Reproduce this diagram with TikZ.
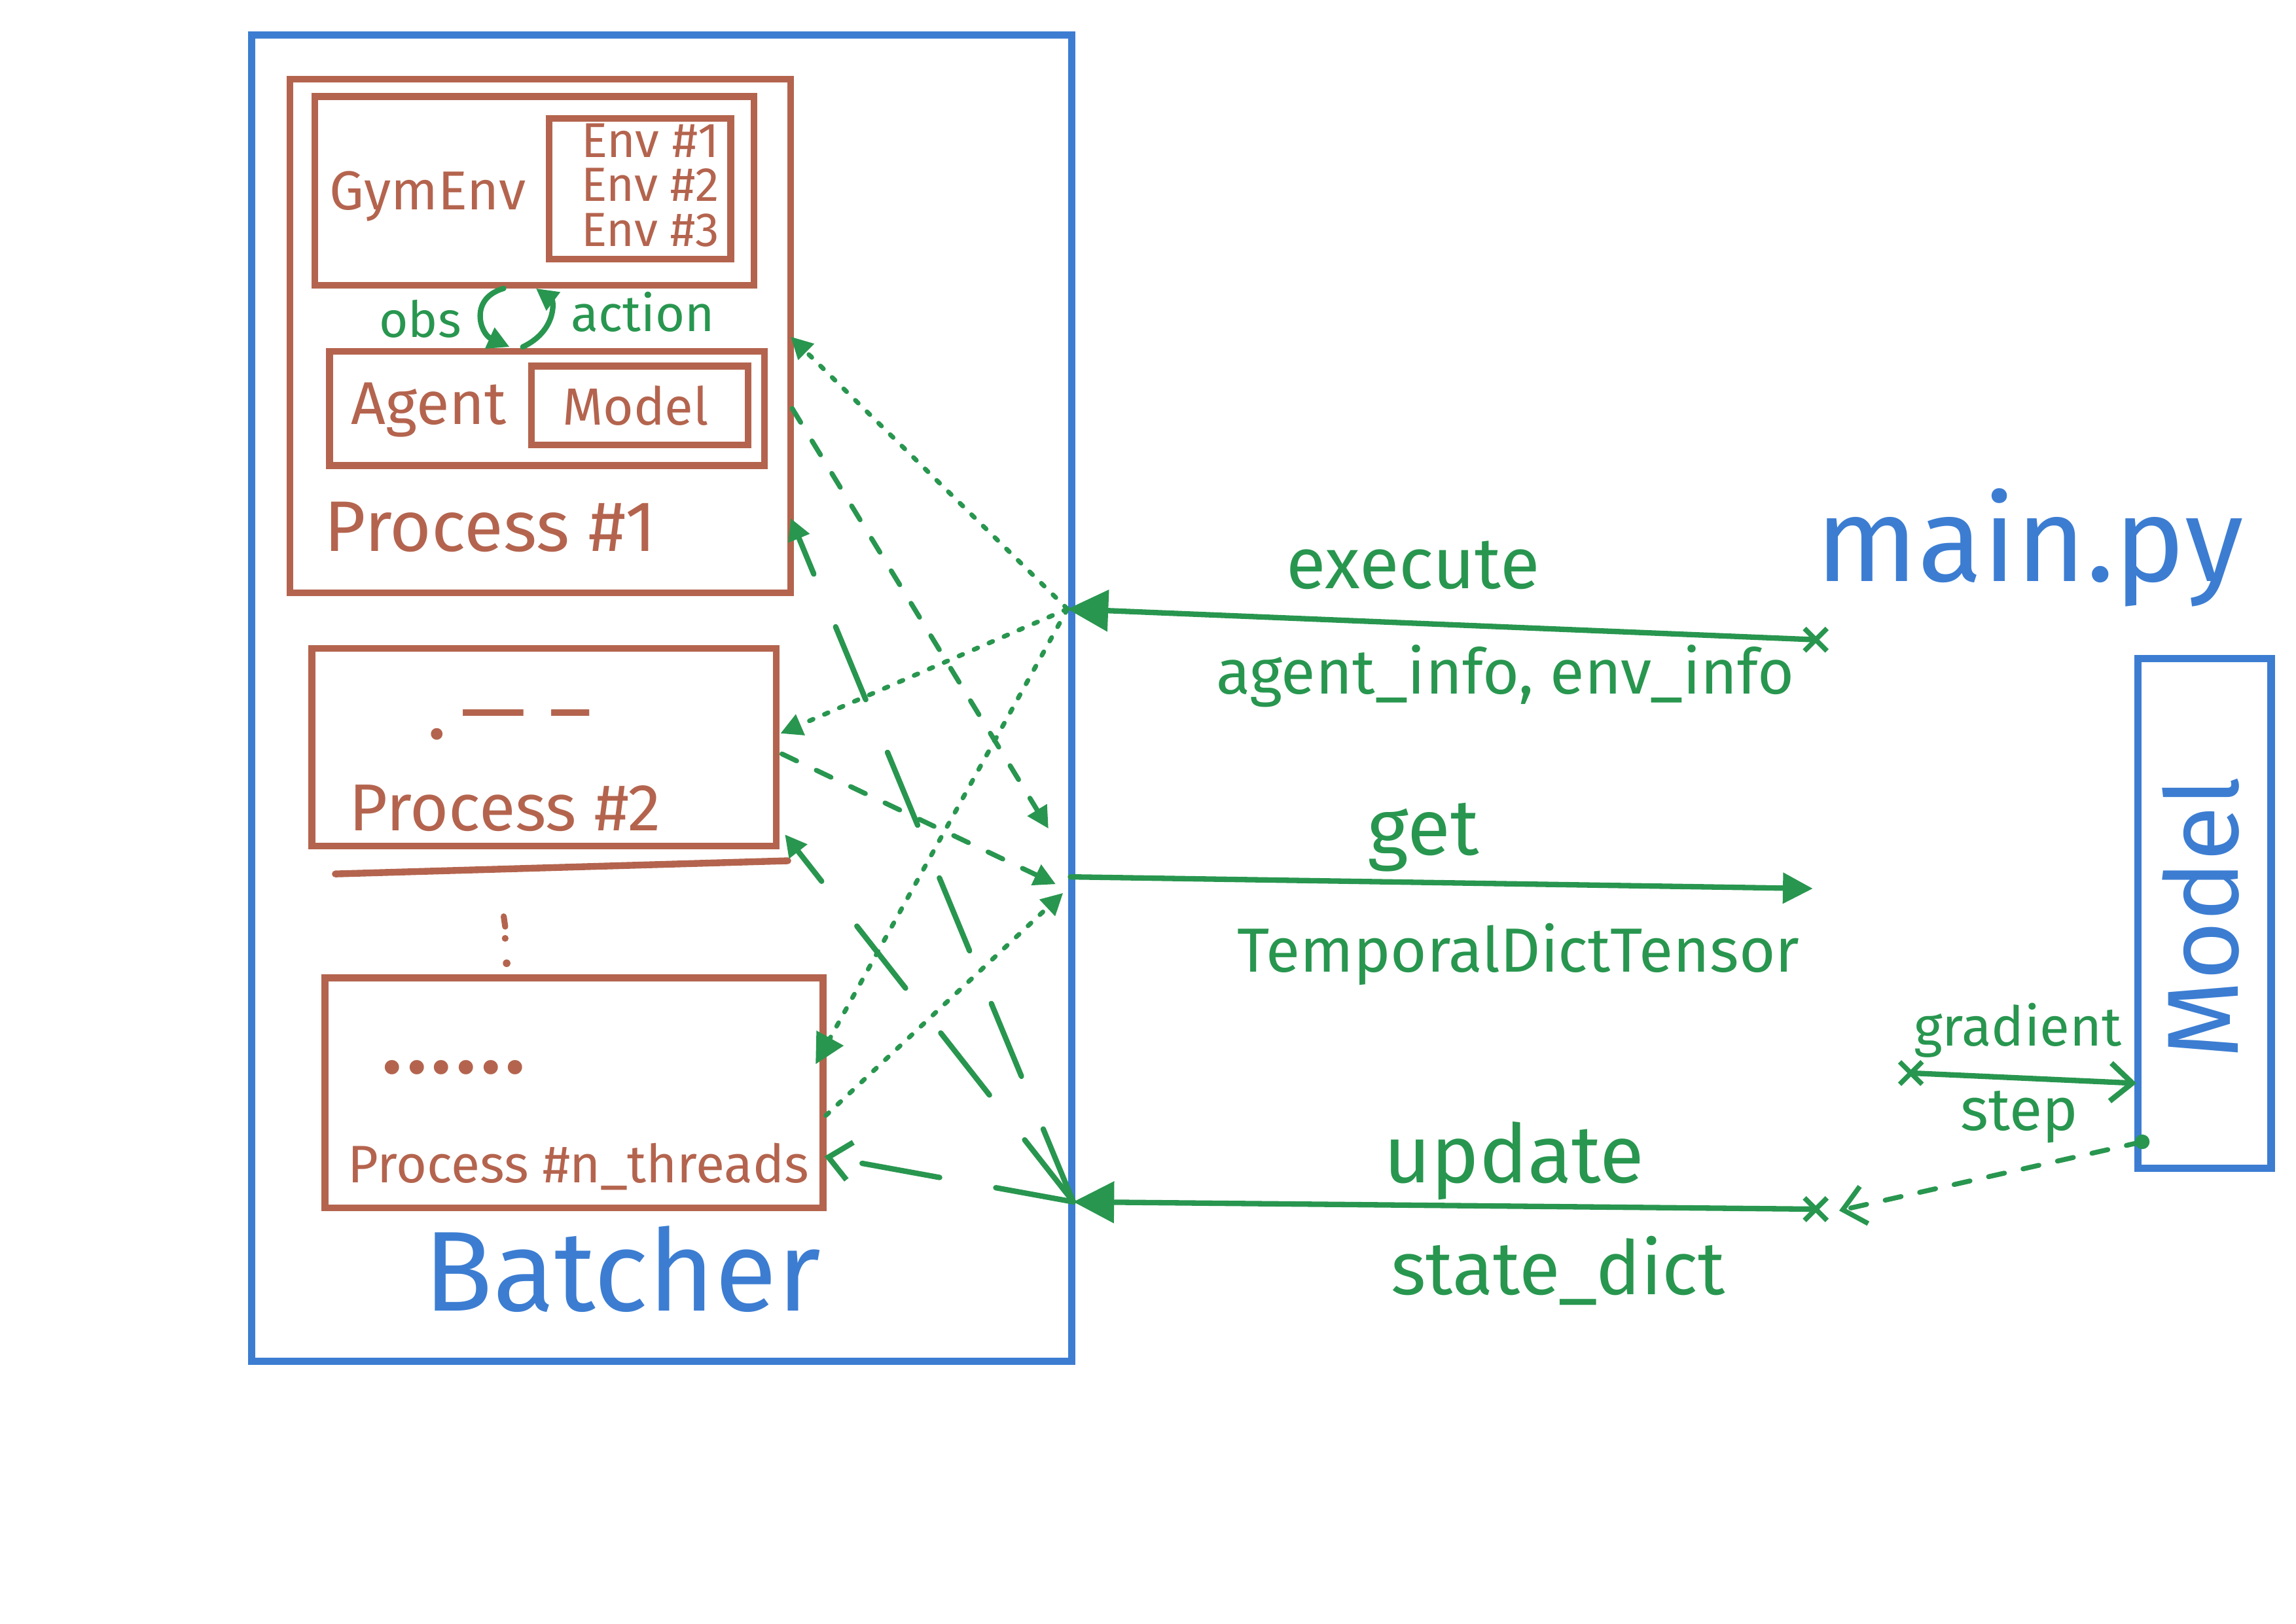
\documentclass[tikz,border=0pt]{standalone}
\usepackage{fontspec}
\setmainfont{Fira Sans}
\usepackage{graphicx}
\usetikzlibrary{arrows.meta,shapes.misc}
\definecolor{brn}{HTML}{B4644E}
\definecolor{grn}{HTML}{28964F}
\definecolor{blu}{HTML}{3C7DD2}
\newlength\pxu
\setlength\pxu{0.018941cm}
\newcommand\fitw[2]{\resizebox{#1\pxu}{!}{#2}}
\begin{document}
\begin{tikzpicture}[x=0.018941cm, y=-0.018941cm,
  bluebox/.style={draw=blu, line width=2.7pt, rectangle, inner sep=0pt},
  brnbox/.style={draw=brn, line width=2.5pt, rectangle, inner sep=0pt},
  brnline/.style={draw=brn, line width=2.5pt, line cap=round},
  btext/.style={text=brn, inner sep=0pt},
  gtext/.style={text=grn, inner sep=0pt},
  bltext/.style={text=blu, inner sep=0pt},
  gline/.style={draw=grn, line width=2pt, line cap=round},
  xmark/.style={cross out, draw=grn, line width=1.8pt, minimum size=12\pxu, inner sep=0pt},
  bigtri/.style={-{Triangle[length=15pt, width=15pt]}},
  midtri/.style={-{Triangle[length=11pt, width=11pt]}},
  smalltri/.style={-{Triangle[length=8pt, width=8pt]}},
  barb/.style={-{Straight Barb[length=8pt, width=14pt]}},
  edot/.style={gline, line width=1.7pt, dash pattern=on 1.5pt off 4.5pt},
  gdash/.style={gline, line width=1.8pt, dash pattern=on 6pt off 8pt},
  udash/.style={gline, line width=2pt, dash pattern=on 29pt off 21pt}
]
\useasboundingbox (0,0) rectangle (1568,1109);
\fill[white] (0,0) rectangle (1568,1109);

% ---------- Batcher ----------
\node[bluebox, minimum width=560\pxu, minimum height=906\pxu] (batcher) at (452,477) {};
\node[bltext] (batchertxt) at (425,867) {\fitw{271}{Batcher}};

% ---------- Process #1 ----------
\node[brnbox, minimum width=342\pxu, minimum height=351\pxu] (p1) at (369,229.5) {};
\node[brnbox, minimum width=300\pxu, minimum height=129\pxu] (gym) at (365,130.5) {};
\node[brnbox, minimum width=124\pxu, minimum height=96\pxu] (envs) at (437,129) {};
\node[btext] (gymtxt) at (292,134) {\fitw{134}{GymEnv}};
\node[btext] (env1) at (444,96) {\fitw{94}{Env \#1}};
\node[btext] (env2) at (444,126) {\fitw{94}{Env \#2}};
\node[btext] (env3) at (444,157) {\fitw{94}{Env \#3}};
\node[brnbox, minimum width=297\pxu, minimum height=78\pxu] (agent) at (373.5,279) {};
\node[brnbox, minimum width=148\pxu, minimum height=54\pxu] (amodel) at (437,277) {};
\node[btext] (agenttxt) at (293,280) {\fitw{106}{Agent}};
\node[btext] (amodeltxt) at (434,277) {\fitw{100}{Model}};
\node[btext] (p1txt) at (335,360) {\fitw{227}{Process \#1}};

% obs / action loop
\coordinate (oa1) at (344,197);
\coordinate (oa2) at (348,237);
\coordinate (ob1) at (357,237);
\coordinate (ob2) at (366,197);
\draw[gline, smalltri] (oa1) .. controls (320,204) and (328,228) .. (oa2);
\draw[gline, smalltri] (ob1) .. controls (380,226) and (378,206) .. (ob2);
\node[gtext] (obstxt) at (287,218) {\fitw{56}{obs}};
\node[gtext] (acttxt) at (439,213) {\fitw{98}{action}};

% ---------- Process #2 ----------
\node[brnbox, minimum width=317\pxu, minimum height=135\pxu] (p2) at (371.5,510.5) {};
\draw[brnline] (229,597) -- (538,588);
\node[btext] (p2dots) at (348,495) {\fitw{113}{.\,--- --}};
\node[btext] (p2txt) at (345,552) {\fitw{213}{Process \#2}};

% vertical ellipsis between the processes (drawn marks)
\draw[brnline, line width=2.2pt] (344,626) -- (345,633);
\fill[brn] (345,641) circle (2.3);
\fill[brn] (346,658) circle (2.6);

% ---------- Process #n_threads ----------
\node[brnbox, minimum width=340\pxu, minimum height=157\pxu] (pn) at (392,746.5) {};
\node[btext] (pndots) at (310,729) {\fitw{101}{......}};
\node[btext] (pntxt) at (395,797) {\fitw{315}{Process \#n\_threads}};

% ---------- main.py and Model ----------
\node[bltext] (mainpy) at (1386,374) {\fitw{292}{main.py}};
\node[bluebox, minimum width=91\pxu, minimum height=348\pxu] (model) at (1505.5,624) {};
\node[bltext, rotate=90] (modeltxt) at (1503,627) {\fitw{193}{Model}};

% ---------- points on the Batcher edge ----------
\coordinate (E) at (729,416);
\coordinate (G) at (731,599);
\coordinate (U) at (733,821);
\coordinate (G1) at (716,566);
\coordinate (G2) at (721,604);
\coordinate (G3) at (726,610);

% points on the process boxes
\coordinate (P1a) at (540,230);
\coordinate (P1b) at (541,279);
\coordinate (P1c) at (540,354);
\coordinate (P2a) at (533,501);
\coordinate (P2b) at (534,515);
\coordinate (P2c) at (536,570);
\coordinate (Pna) at (557,727);
\coordinate (Pnb) at (564,762);
\coordinate (Pnc) at (563,790);

% ---------- execute ----------
\node[xmark] (xe) at (1240,437) {};
\draw[gline, bigtri] (xe.center) -- (E);
\node[gtext] (exectxt) at (965,386) {\fitw{173}{execute}};
\node[gtext] (infotxt) at (1028,462) {\fitw{395}{agent\_info, env\_info}};
\draw[edot, smalltri] (E) -- (P1a);
\draw[edot, smalltri] (E) -- (P2a);
\draw[edot, midtri] (E) -- (Pna);

% ---------- get ----------
\coordinate (gt) at (1238,607);
\draw[gline, midtri] (G) -- (gt);
\node[gtext] (gettxt) at (972,572) {\fitw{76}{get}};
\node[gtext] (tdttxt) at (1037,652) {\fitw{384}{TemporalDictTensor}};
\draw[gdash, smalltri] (P1b) -- (G1);
\draw[gdash, smalltri] (P2b) -- (G2);
\draw[edot, smalltri] (Pnb) -- (G3);

% ---------- update ----------
\node[xmark] (xu) at (1240,826) {};
\draw[gline, bigtri] (xu.center) -- (U);
\node[gtext] (updtxt) at (1034,793) {\fitw{178}{update}};
\node[gtext] (sdtxt) at (1064,868) {\fitw{228}{state\_dict}};
\draw[udash, smalltri] (U) -- (P1c);
\draw[udash, smalltri] (U) -- (P2c);
\draw[udash, barb] (U) -- (Pnc);

% ---------- gradient step ----------
\node[xmark] (xg) at (1305,733) {};
\coordinate (mg) at (1459,740);
\draw[gline, barb] (xg.center) -- (mg);
\node[gtext] (gradtxt) at (1378,704) {\fitw{142}{gradient}};
\node[gtext] (steptxt) at (1379,763) {\fitw{80}{step}};
\coordinate (md) at (1463,780);
\coordinate (ua) at (1256,827);
\draw[gline, line width=1.8pt, dash pattern=on 6pt off 7pt, barb] (md) -- (ua);
\fill[grn] (md) circle (5);
\end{tikzpicture}
\end{document}
